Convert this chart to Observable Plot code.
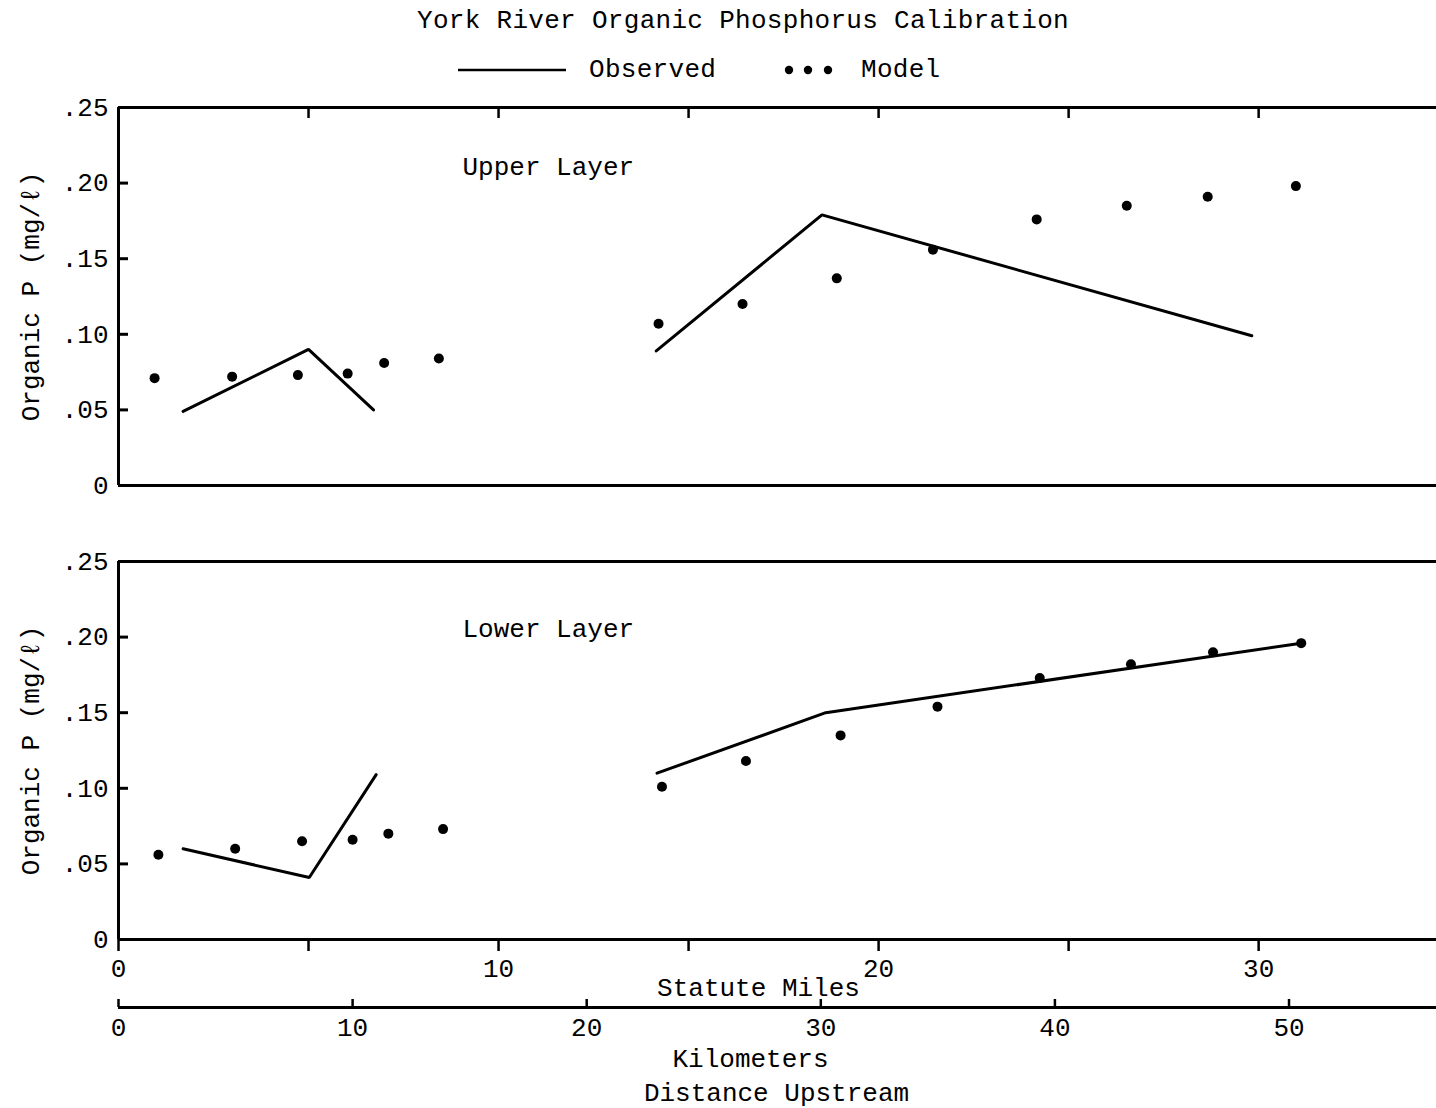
<!DOCTYPE html>
<html>
<head>
<meta charset="utf-8">
<script src="https://cdn.jsdelivr.net/npm/d3@7"></script>
<script src="https://cdn.jsdelivr.net/npm/@observablehq/plot@0.6"></script>
<style>
  html, body { margin: 0; padding: 0; background: #fff; overflow: hidden; }
  body { width: 1436px; height: 1108px; position: relative; font-family: "Liberation Mono", monospace; color: #000; }
  .abs { position: absolute; }
  .txt { font-size: 26px; line-height: 30px; white-space: nowrap; letter-spacing: 0.3px; }
</style>
</head>
<body>
<div id="title" class="abs txt" style="left:743px; top:6px; transform:translateX(-50%);">York River Organic Phosphorus Calibration</div>
<svg class="abs" style="left:455px; top:55px;" width="115" height="30"><line x1="3" x2="111" y1="15" y2="15" stroke="#000" stroke-width="2.5"/></svg>
<div class="abs txt" style="left:589px; top:55px;">Observed</div>
<svg class="abs" style="left:780px; top:55px;" width="60" height="30">
  <circle cx="9" cy="15" r="4.2" fill="#000"/><circle cx="28" cy="15" r="4.2" fill="#000"/><circle cx="48" cy="15" r="4.2" fill="#000"/>
</svg>
<div class="abs txt" style="left:861px; top:55px;">Model</div>
<div id="upper" class="abs" style="left:0; top:90px;"></div>
<div id="lower" class="abs" style="left:0; top:540px;"></div>
<div id="km" class="abs" style="left:0; top:990px;"></div>
<script>
// ---- data (x in statute miles, y in mg/l) ----
const upperModelX = [0.95, 2.99, 4.72, 6.03, 6.99, 8.43, 14.21, 16.42, 18.90, 21.43, 24.16, 26.53, 28.66, 30.98];
const upperModelY = [0.071, 0.072, 0.073, 0.074, 0.081, 0.084, 0.107, 0.120, 0.137, 0.156, 0.176, 0.185, 0.191, 0.198];
const upperObsX   = [1.70, 5.00, 6.71, 14.15, 18.51, 29.82];
const upperObsY   = [0.049, 0.090, 0.050, 0.089, 0.179, 0.099];
const upperObsSeg = [1, 1, 1, 2, 2, 2];

const lowerModelX = [1.05, 3.07, 4.83, 6.16, 7.10, 8.54, 14.30, 16.51, 19.00, 21.55, 24.24, 26.64, 28.80, 31.12];
const lowerModelY = [0.056, 0.060, 0.065, 0.066, 0.070, 0.073, 0.101, 0.118, 0.135, 0.154, 0.173, 0.182, 0.190, 0.196];
const lowerObsX   = [1.70, 5.02, 6.78, 14.17, 18.61, 31.12];
const lowerObsY   = [0.060, 0.041, 0.109, 0.110, 0.150, 0.196];
const lowerObsSeg = [1, 1, 1, 2, 2, 2];

const yTicks      = [0, 0.05, 0.10, 0.15, 0.20, 0.25];
const mileTicks   = [0, 5, 10, 15, 20, 25, 30];
const mileLabels  = [0, 10, 20, 30];
const kmTicks     = [0, 10, 20, 30, 40, 50];
const xMaxMiles   = 34.68;
const xMaxKm      = 56.3;

const yLabel = "Organic P (mg/ℓ)";
const FONT = "'Liberation Mono', monospace";
const fmtY = d => d === 0 ? "0" : d3.format(".2f")(d).replace(/^0/, "");

function rows(xs, ys, seg) { return xs.map((x, i) => ({x, y: ys[i], seg: seg ? seg[i] : 0})); }

function panel({modelX, modelY, obsX, obsY, obsSeg, layer, layerDy, marginTop, marginBottom, top}) {
  const plotH = 378;
  const marks = [
    Plot.ruleY([0, 0.25], {strokeWidth: 3}),
    Plot.ruleX([0], {strokeWidth: 3}),
    Plot.axisY(yTicks.slice(1, -1), {tickSize: -10, fill: "none", strokeWidth: 3, label: null}),
    Plot.axisY(yTicks, {tickSize: 0, tickPadding: 10, tickFormat: fmtY, label: null}),
    Plot.text([yLabel], {text: d => d, frameAnchor: "left", rotate: -90, dx: -88, textAnchor: "middle", lineAnchor: "middle"}),
    Plot.text([layer], {text: d => d, frameAnchor: "top-left", dx: 344, dy: layerDy, textAnchor: "start", lineAnchor: "middle"}),
    Plot.line(rows(obsX, obsY, obsSeg), {x: "x", y: "y", z: "seg", strokeWidth: 3, strokeLinejoin: "miter"}),
    Plot.dot(rows(modelX, modelY), {x: "x", y: "y", r: 5, fill: "black", stroke: "none"})
  ];
  if (top) {
    marks.push(Plot.axisX(mileTicks.filter(d => d > 0), {anchor: "top", tickSize: -10, fill: "none", strokeWidth: 2.5, label: null}));
  } else {
    marks.push(Plot.axisX(mileTicks, {anchor: "bottom", tickSize: 12, fill: "none", strokeWidth: 2.5, label: null}));
    marks.push(Plot.axisX(mileLabels, {anchor: "bottom", tickSize: 0, tickPadding: 19, label: null}));
    marks.push(Plot.text(["Statute Miles"], {text: d => d, frameAnchor: "bottom", dx: -19, dy: 48, lineAnchor: "middle"}));
  }
  return Plot.plot({
    width: 1436,
    height: marginTop + plotH + marginBottom,
    marginTop, marginBottom, marginLeft: 118, marginRight: 0,
    style: {fontFamily: FONT, fontSize: "26px", background: "none", color: "black", overflow: "visible"},
    x: {domain: [0, xMaxMiles]},
    y: {domain: [0, 0.25]},
    marks
  });
}

document.getElementById("upper").append(panel({
  modelX: upperModelX, modelY: upperModelY, obsX: upperObsX, obsY: upperObsY, obsSeg: upperObsSeg,
  layer: "Upper Layer", layerDy: 59, marginTop: 17, marginBottom: 10, top: true
}));
document.getElementById("lower").append(panel({
  modelX: lowerModelX, modelY: lowerModelY, obsX: lowerObsX, obsY: lowerObsY, obsSeg: lowerObsSeg,
  layer: "Lower Layer", layerDy: 67, marginTop: 21, marginBottom: 60, top: false
}));

document.getElementById("km").append(Plot.plot({
  width: 1436, height: 118, marginTop: 16, marginBottom: 101, marginLeft: 118, marginRight: 0,
  style: {fontFamily: FONT, fontSize: "26px", background: "none", color: "black", overflow: "visible"},
  x: {domain: [0, xMaxKm]},
  y: {domain: [0, 1], axis: null},
  marks: [
    Plot.ruleY([0], {strokeWidth: 3}),
    Plot.axisX(kmTicks, {anchor: "bottom", tickSize: -8, fill: "none", strokeWidth: 2.5, label: null}),
    Plot.axisX(kmTicks, {anchor: "bottom", tickSize: 0, tickPadding: 10, label: null}),
    Plot.text(["Kilometers"], {text: d => d, frameAnchor: "bottom", dx: -27, dy: 51, lineAnchor: "middle"}),
    Plot.text(["Distance Upstream"], {text: d => d, frameAnchor: "bottom", dx: -1, dy: 85, lineAnchor: "middle"})
  ]
}));
</script>
</body>
</html>
